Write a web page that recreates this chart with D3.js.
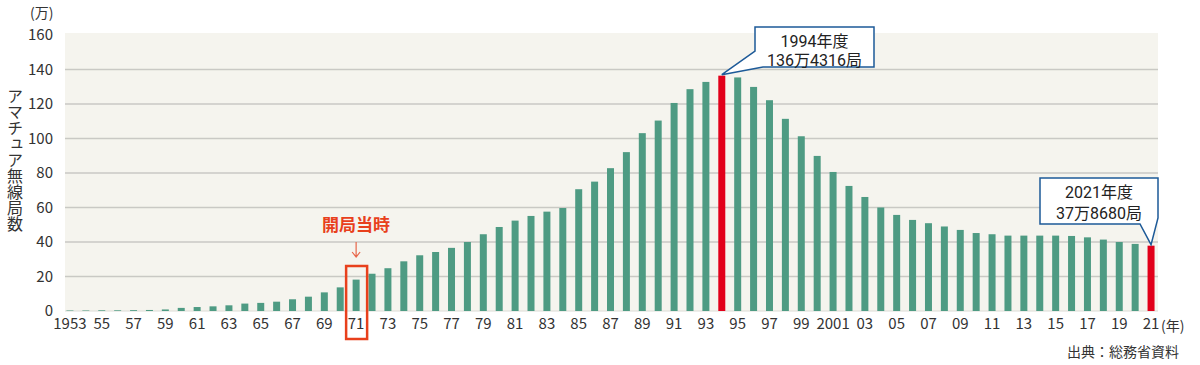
<!DOCTYPE html>
<html lang="ja">
<head>
<meta charset="UTF-8" />
<script src="https://d3js.org/d3.v7.min.js"></script>
<style>
  body { margin: 0; background: #fff; }
  text { font-family: "Noto Sans CJK JP", "Noto Sans", sans-serif; fill: #333; }
</style>
</head>
<body>
<div id="chart"></div>
<script>
// years (fiscal), 1953 - 2021
const years = d3.range(1953, 2022);

// amateur radio stations, unit: 万局
const stations = [
  0.3, 0.3, 0.4, 0.4, 0.5, 0.6, 0.9, 1.8, 2.3, 2.7,      // 1953-1962
  3.3, 4.3, 4.7, 5.4, 6.8, 8.3, 10.8, 13.7, 18.2, 21.6,  // 1963-1972
  24.8, 28.8, 32.3, 34.2, 36.6, 40.0, 44.5, 48.7, 52.4, 55.1, // 1973-1982
  57.6, 59.7, 70.6, 75.0, 82.8, 92.1, 103.1, 110.4, 120.6, 128.6, // 1983-1992
  132.8, 136.43, 135.4, 129.9, 122.2, 111.4, 101.3, 89.9, 80.6, 72.5, // 1993-2002
  66.1, 60.0, 55.7, 52.8, 50.9, 49.0, 47.0, 45.2, 44.5, 43.7, // 2003-2012
  43.7, 43.7, 43.7, 43.5, 42.7, 41.4, 40.0, 38.9, 37.87        // 2013-2021
];

const highlightYears = [1994, 2021];
const yTicks = [0, 20, 40, 60, 80, 100, 120, 140, 160];
const xTickYears = years.filter((y) => (y - 1953) % 2 === 0);

const callouts = [
  { year: 1994, lines: ["1994年度", "136万4316局"] },
  { year: 2021, lines: ["2021年度", "37万8680局"] }
];
const startYear = 1971;
const startLabel = "開局当時";

// --- chart ---
const width = 1200, height = 365;
const data = years.map((y, i) => ({ year: y, value: stations[i] }));

const svg = d3.select("#chart").append("svg")
  .attr("width", width).attr("height", height);

const x = d3.scaleBand()
  .domain(years)
  .range([62, 1159])
  .paddingInner(0.56)
  .paddingOuter(0.28);

const y = d3.scaleLinear().domain([0, 160]).range([311, 35]);

const cx = (yr) => x(yr) + x.bandwidth() / 2;

// plot background
svg.append("rect")
  .attr("x", 65).attr("y", 33)
  .attr("width", 1158 - 65).attr("height", y(0) - 33)
  .attr("fill", "#f5f4ee");

// gridlines
svg.append("g")
  .selectAll("line")
  .data(yTicks.filter((d) => d > 0 && d < 160))
  .join("line")
  .attr("x1", 65).attr("x2", 1158)
  .attr("y1", (d) => y(d)).attr("y2", (d) => y(d))
  .attr("stroke", "#c9c9c4").attr("stroke-width", 1.3);

svg.append("line")
  .attr("x1", 65).attr("x2", 1158)
  .attr("y1", y(0)).attr("y2", y(0))
  .attr("stroke", "#dcdcd6").attr("stroke-width", 1);

// y axis
const yAxis = svg.append("g")
  .attr("transform", "translate(53,0)")
  .call(d3.axisLeft(y).tickValues(yTicks).tickSize(0).tickPadding(0));
yAxis.select(".domain").remove();
yAxis.selectAll(".tick text")
  .attr("font-size", 15)
  .attr("font-family", "'Noto Sans CJK JP', sans-serif")
  .attr("fill", "#333");

// x axis
const xAxis = svg.append("g")
  .attr("transform", `translate(0,${y(0)})`)
  .call(d3.axisBottom(x).tickValues(xTickYears).tickSize(0).tickPadding(7)
    .tickFormat((d) => (d === 1953 || d === 2001 ? String(d) : String(d).slice(2))));
xAxis.select(".domain").remove();
xAxis.selectAll(".tick text")
  .attr("font-size", 15)
  .attr("font-family", "'Noto Sans CJK JP', sans-serif")
  .attr("fill", "#333");

svg.append("text")
  .attr("x", cx(2021) + 10).attr("y", 331)
  .attr("font-size", 14)
  .text("(年)");

// bars
svg.append("g")
  .selectAll("rect")
  .data(data)
  .join("rect")
  .attr("x", (d) => x(d.year))
  .attr("y", (d) => y(d.value))
  .attr("width", x.bandwidth())
  .attr("height", (d) => y(0) - y(d.value))
  .attr("fill", (d) => (highlightYears.includes(d.year) ? "#e2001a" : "#4e9b83"));

// unit + y title
svg.append("text")
  .attr("x", 30).attr("y", 18)
  .attr("font-size", 14)
  .text("(万)");

svg.append("text")
  .attr("x", 15).attr("y", 88)
  .attr("font-size", 16)
  .style("writing-mode", "vertical-rl")
  .style("text-orientation", "upright")
  .text("アマチュア無線局数");

// callouts
function callout(c, box, tail, lineGap) {
  const d = data.find((e) => e.year === c.year);
  const tip = [cx(c.year), y(d.value) - 1];
  const g = svg.append("g");
  let p;
  if (tail === "left") {
    p = `M${box.x0},${box.y0}H${box.x1}V${box.y1}H${box.x0 + 8}L${tip[0]},${tip[1]}L${box.x0},${box.y0 + 24}Z`;
  } else {
    p = `M${box.x0},${box.y0}H${box.x1}V${box.y1 - 6}L${tip[0]},${tip[1]}L${box.x1 - 18},${box.y1}H${box.x0}Z`;
  }
  g.append("path")
    .attr("d", p)
    .attr("fill", "#fff")
    .attr("stroke", "#1d5a98")
    .attr("stroke-width", 1.5)
    .attr("stroke-linejoin", "miter");
  const mid = (box.x0 + box.x1) / 2;
  g.selectAll("text")
    .data(c.lines)
    .join("text")
    .attr("x", mid)
    .attr("y", (s, i) => box.y0 + 20 + i * lineGap)
    .attr("text-anchor", "middle")
    .attr("font-size", 16)
    .style("font-family", "Roboto, 'Noto Sans CJK JP', sans-serif")
    .style("fill", "#222")
    .text((s) => s);
}

callout(callouts[0], { x0: 755, x1: 874, y0: 27, y1: 67 }, "left", 19);
callout(callouts[1], { x0: 1040, x1: 1158, y0: 178, y1: 224 }, "right", 21);

// 開局当時 marker
const sx = cx(startYear);
svg.append("text")
  .attr("x", sx).attr("y", 231)
  .attr("text-anchor", "middle")
  .attr("font-size", 17)
  .attr("font-weight", "bold")
  .style("fill", "#e8401c")
  .text(startLabel);

svg.append("path")
  .attr("d", `M${sx},242V257M${sx - 4},252L${sx},257L${sx + 4},252`)
  .attr("fill", "none")
  .attr("stroke", "#e8664a")
  .attr("stroke-width", 1.2);

svg.append("rect")
  .attr("x", sx - 10).attr("y", 266)
  .attr("width", 21).attr("height", 73)
  .attr("fill", "none")
  .attr("stroke", "#e8401c")
  .attr("stroke-width", 2.5);

// source
svg.append("text")
  .attr("x", 1179).attr("y", 357)
  .attr("text-anchor", "end")
  .attr("font-size", 14)
  .attr("fill", "#444")
  .text("出典：総務省資料");
</script>
</body>
</html>
